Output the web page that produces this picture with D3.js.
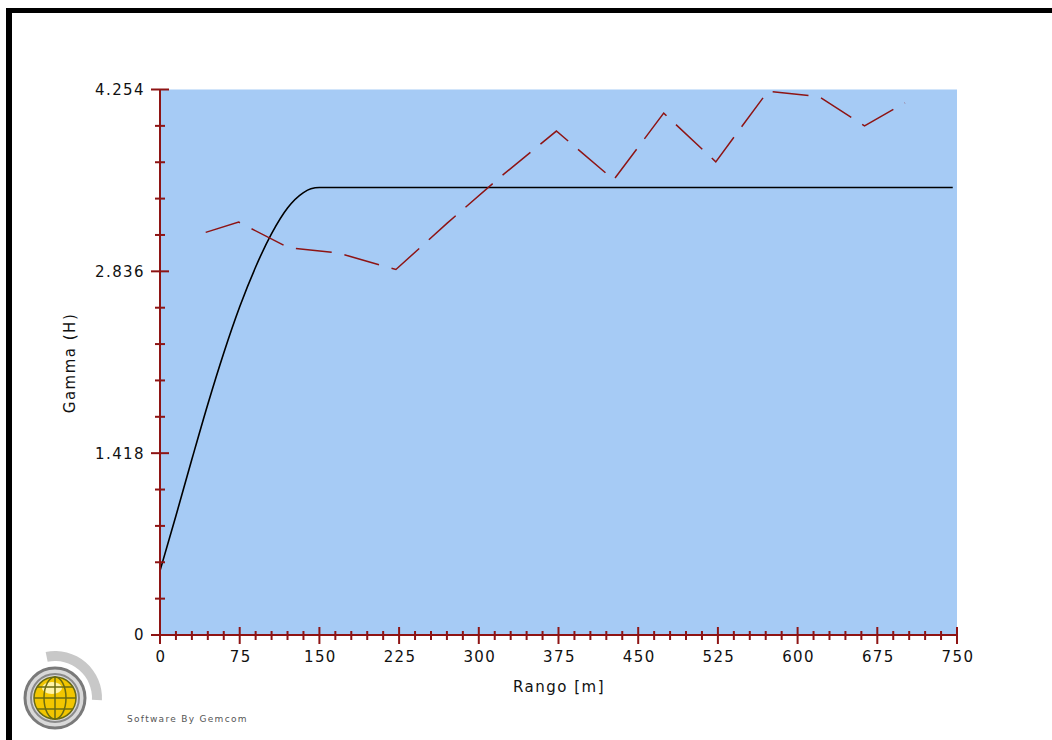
<!DOCTYPE html>
<html>
<head>
<meta charset="utf-8">
<script src="https://cdn.jsdelivr.net/npm/d3@7/dist/d3.min.js"></script>
<style>
  html, body { margin: 0; padding: 0; background: #fff; }
  svg { display: block; }
  text { font-family: "DejaVu Sans", sans-serif; }
</style>
</head>
<body>
<script>
// tick labels
var xTickLabels = [0, 75, 150, 225, 300, 375, 450, 525, 600, 675, 750];
var yTickLabels = [0, 1.418, 2.836, 4.254];

var expLag   = [43, 74, 121, 167, 222, 270, 320, 373, 427, 474, 523, 572, 620, 663, 701];
var expGamma = [3.14, 3.22, 3.02, 2.98, 2.85, 3.21, 3.57, 3.93, 3.55, 4.07, 3.69, 4.24, 4.20, 3.97, 4.15];

// fitted model (solid black), sampled along the curve
var modelLag   = [0, 15, 30, 45, 60, 75, 90, 105, 120, 135, 142, 150, 746];
var modelGamma = [0.50, 0.93, 1.37, 1.80, 2.20, 2.56, 2.87, 3.13, 3.33, 3.45, 3.48, 3.49, 3.49];

var W = 1052, H = 740;
var red = "#8e1414";

var svg = d3.select("body").append("svg")
  .attr("width", W).attr("height", H);

// frame (black left + top)
svg.append("rect").attr("x", 6).attr("y", 8).attr("width", W - 6).attr("height", 5).attr("fill", "#000");
svg.append("rect").attr("x", 6).attr("y", 8).attr("width", 6).attr("height", H - 8).attr("fill", "#000");

var x = d3.scaleLinear().domain([0, 750]).range([160, 957]);
var y = d3.scaleLinear().domain([0, 4.254]).range([635, 89.5]);

// plot background
svg.append("rect")
  .attr("x", x(0)).attr("y", y(4.254))
  .attr("width", x(750) - x(0)).attr("height", y(0) - y(4.254))
  .attr("fill", "#a6cbf5");

svg.append("clipPath").attr("id", "clip")
  .append("rect")
  .attr("x", x(0)).attr("y", y(4.254))
  .attr("width", x(750) - x(0)).attr("height", y(0) - y(4.254));

var plot = svg.append("g").attr("clip-path", "url(#clip)");

var line = d3.line()
  .x(function (d) { return x(d[0]); })
  .y(function (d) { return y(d[1]); });

plot.append("path")
  .datum(d3.zip(modelLag, modelGamma))
  .attr("d", line.curve(d3.curveMonotoneX))
  .attr("fill", "none").attr("stroke", "#000").attr("stroke-width", 1.6);

plot.append("path")
  .datum(d3.zip(expLag, expGamma))
  .attr("d", line.curve(d3.curveLinear))
  .attr("fill", "none").attr("stroke", red).attr("stroke-width", 1.5)
  .attr("stroke-dasharray", "36,13");

// axes
var ax = svg.append("g").attr("stroke", red).attr("stroke-width", 2);
ax.append("line").attr("x1", x(0)).attr("x2", x(0)).attr("y1", y(4.254)).attr("y2", y(0));
ax.append("line").attr("x1", x(0)).attr("x2", x(750)).attr("y1", y(0)).attr("y2", y(0));

// y ticks: 5 steps between labels
d3.range(16).forEach(function (i) {
  var v = i * 4.254 / 15, major = (i % 5 === 0);
  ax.append("line")
    .attr("x1", x(0) - (major ? 9 : 5)).attr("x2", x(0) + (major ? 9 : 5))
    .attr("y1", y(v)).attr("y2", y(v));
});
// x ticks: every 15, label every 75
d3.range(51).forEach(function (i) {
  var v = i * 15, major = (i % 5 === 0);
  ax.append("line")
    .attr("x1", x(v)).attr("x2", x(v))
    .attr("y1", y(0) - (major ? 8 : 4)).attr("y2", y(0) + (major ? 9 : 5));
});

svg.selectAll(".ylab").data(yTickLabels).enter().append("text")
  .attr("x", 145).attr("y", function (d) { return y(d); })
  .attr("dy", "0.36em").attr("text-anchor", "end")
  .attr("font-size", 15).attr("letter-spacing", 1.4).attr("fill", "#111")
  .text(function (d) { return d === 0 ? "0" : d3.format(".3f")(d); });

svg.selectAll(".xlab").data(xTickLabels).enter().append("text")
  .attr("x", function (d) { return x(d) + 1; }).attr("y", 662)
  .attr("text-anchor", "middle")
  .attr("font-size", 15).attr("letter-spacing", 1.4).attr("fill", "#111")
  .text(function (d) { return d; });

svg.append("text")
  .attr("x", 559).attr("y", 692).attr("text-anchor", "middle")
  .attr("font-size", 15).attr("letter-spacing", 1.5).attr("fill", "#111")
  .text("Rango [m]");

svg.append("text")
  .attr("transform", "translate(75,363) rotate(-90)")
  .attr("text-anchor", "middle")
  .attr("font-size", 15).attr("letter-spacing", 1.5).attr("fill", "#111")
  .text("Gamma (H)");

// Gemcom logo
var logo = svg.append("g").attr("transform", "translate(55,698)");
logo.append("path")
  .attr("d", d3.arc().innerRadius(37).outerRadius(47).startAngle(-0.2).endAngle(Math.PI / 2 + 0.05)())
  .attr("fill", "#c8c8c8");
logo.append("circle").attr("r", 30).attr("fill", "#d9d9d9").attr("stroke", "#7a7a7a").attr("stroke-width", 3);
logo.append("circle").attr("r", 24).attr("fill", "none").attr("stroke", "#8a8a8a").attr("stroke-width", 2);
logo.append("circle").attr("r", 21).attr("fill", "#f2c600");
logo.append("ellipse").attr("cx", -3).attr("cy", -10).attr("rx", 10).attr("ry", 6).attr("fill", "#fff3a8");
var grid = logo.append("g").attr("stroke", "#6b6b10").attr("stroke-width", 1.5).attr("fill", "none");
grid.append("line").attr("x1", 0).attr("x2", 0).attr("y1", -22).attr("y2", 22);
grid.append("ellipse").attr("rx", 11).attr("ry", 21);
grid.append("line").attr("x1", -21).attr("x2", 21).attr("y1", 0).attr("y2", 0);
grid.append("line").attr("x1", -18).attr("x2", 18).attr("y1", -11).attr("y2", -11);
grid.append("line").attr("x1", -18).attr("x2", 18).attr("y1", 11).attr("y2", 11);
logo.append("circle").attr("r", 21).attr("fill", "none").attr("stroke", "#6b6b10").attr("stroke-width", 1.5);

svg.append("text")
  .attr("x", 127).attr("y", 722)
  .attr("font-size", 9).attr("letter-spacing", 1.3).attr("fill", "#555")
  .text("Software By Gemcom");
</script>
</body>
</html>
